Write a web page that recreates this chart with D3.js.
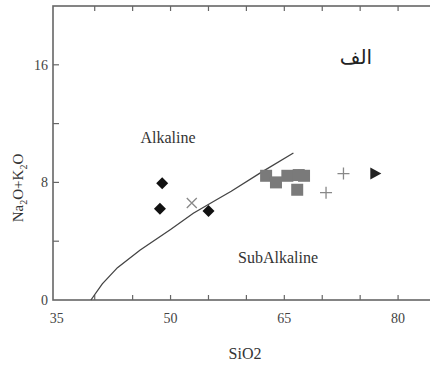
<!DOCTYPE html>
<html>
<head>
<meta charset="utf-8">
<script src="https://cdn.jsdelivr.net/npm/d3@7"></script>
<style>
  body { margin: 0; background: #fff; }
  svg text { font-family: "Liberation Serif", "DejaVu Serif", serif; }
</style>
</head>
<body>
<div id="chart"></div>
<script>
// TAS-style diagram, SiO2 vs Na2O+K2O
const xTicks = [35, 50, 65, 80];
const yTicks = [0, 8, 16];

// alkaline / subalkaline divider
const divider = [[39.5, 0], [41, 1.1], [43, 2.2], [46, 3.4], [50, 4.8], [53, 5.9],
                 [56, 6.8], [58, 7.4], [62, 8.7], [66.2, 10]];

const diamonds = [[48.9, 7.95], [48.6, 6.2], [55.0, 6.05]];
const crosses = [[52.8, 6.6]];
const squares = [[62.6, 8.45], [63.9, 8.0], [65.4, 8.45], [66.9, 8.5], [67.6, 8.45], [66.7, 7.5]];
const pluses = [[72.8, 8.6], [70.5, 7.3]];
const triangles = [[77.0, 8.6]];

const width = 430, height = 365;
const margin = { left: 53, right: -6, top: 6, bottom: 65 };

const svg = d3.select("#chart").append("svg")
    .attr("width", width)
    .attr("height", height);

const x = d3.scaleLinear().domain([34.5, 85]).range([margin.left, width - margin.right]);
const y = d3.scaleLinear().domain([0, 20]).range([height - margin.bottom, margin.top]);

const axisColor = "#666";
const minorX = d3.range(40, 85, 5);
const minorY = d3.range(4, 20, 4);

// frame
svg.append("rect")
    .attr("x", x(34.5)).attr("y", y(20))
    .attr("width", x(85) - x(34.5)).attr("height", y(0) - y(20))
    .attr("fill", "none").attr("stroke", axisColor).attr("stroke-width", 1.6);

// inward ticks
const tk = svg.append("g").attr("stroke", axisColor).attr("stroke-width", 1.2);
minorX.forEach(v => {
    tk.append("line").attr("x1", x(v)).attr("x2", x(v)).attr("y1", y(0)).attr("y2", y(0) - 5);
    tk.append("line").attr("x1", x(v)).attr("x2", x(v)).attr("y1", y(20)).attr("y2", y(20) + 5);
});
minorY.forEach(v => {
    tk.append("line").attr("x1", x(34.5)).attr("x2", x(34.5) + 6).attr("y1", y(v)).attr("y2", y(v));
    tk.append("line").attr("x1", x(85)).attr("x2", x(85) - 6).attr("y1", y(v)).attr("y2", y(v));
});

// tick labels
svg.selectAll(".xl").data(xTicks).join("text")
    .attr("x", d => x(d)).attr("y", y(0) + 23)
    .attr("text-anchor", "middle").attr("font-size", 14).attr("fill", "#444")
    .text(d => d);
svg.selectAll(".yl").data(yTicks).join("text")
    .attr("x", x(34.5) - 5).attr("y", d => y(d) + 5)
    .attr("text-anchor", "end").attr("font-size", 14).attr("fill", "#444")
    .text(d => d);

// axis titles
svg.append("text")
    .attr("x", 245).attr("y", 359)
    .attr("text-anchor", "middle").attr("font-size", 16).attr("fill", "#333")
    .text("SiO2");

const yt = svg.append("text")
    .attr("transform", "translate(23,188) rotate(-90)")
    .attr("text-anchor", "middle").attr("font-size", 15).attr("fill", "#333");
yt.append("tspan").text("Na");
yt.append("tspan").attr("font-size", 10).attr("dy", 4).text("2");
yt.append("tspan").attr("dy", -4).text("O+K");
yt.append("tspan").attr("font-size", 10).attr("dy", 4).text("2");
yt.append("tspan").attr("dy", -4).text("O");

// region labels
svg.append("text").attr("x", 168).attr("y", 143)
    .attr("text-anchor", "middle").attr("font-size", 16).attr("fill", "#333").text("Alkaline");
svg.append("text").attr("x", 278).attr("y", 263)
    .attr("text-anchor", "middle").attr("font-size", 16).attr("fill", "#333").text("SubAlkaline");
svg.append("text").attr("x", 356).attr("y", 64)
    .attr("text-anchor", "middle").attr("font-size", 20)
    .style("font-family", "'DejaVu Sans', sans-serif").attr("fill", "#222")
    .text("الف");

// divider line
svg.append("path")
    .datum(divider)
    .attr("d", d3.line().x(d => x(d[0])).y(d => y(d[1])))
    .attr("fill", "none").attr("stroke", "#444").attr("stroke-width", 1.3);

// markers
svg.selectAll(".sq").data(squares).join("rect")
    .attr("x", d => x(d[0]) - 6).attr("y", d => y(d[1]) - 6)
    .attr("width", 12).attr("height", 12).attr("fill", "#7a7a7a");

svg.selectAll(".dm").data(diamonds).join("path")
    .attr("transform", d => `translate(${x(d[0])},${y(d[1])})`)
    .attr("d", "M0,-6L6,0L0,6L-6,0Z")
    .attr("fill", "#111");

svg.selectAll(".cr").data(crosses).join("path")
    .attr("transform", d => `translate(${x(d[0])},${y(d[1])})`)
    .attr("d", "M-5,-5L5,5M-5,5L5,-5")
    .attr("stroke", "#888").attr("stroke-width", 1.3);

svg.selectAll(".pl").data(pluses).join("path")
    .attr("transform", d => `translate(${x(d[0])},${y(d[1])})`)
    .attr("d", "M-6,0L6,0M0,-6L0,6")
    .attr("stroke", "#888").attr("stroke-width", 1.3);

svg.selectAll(".tr").data(triangles).join("path")
    .attr("transform", d => `translate(${x(d[0])},${y(d[1])})`)
    .attr("d", "M-5,-6L6,0L-5,6Z")
    .attr("fill", "#222");
</script>
</body>
</html>
